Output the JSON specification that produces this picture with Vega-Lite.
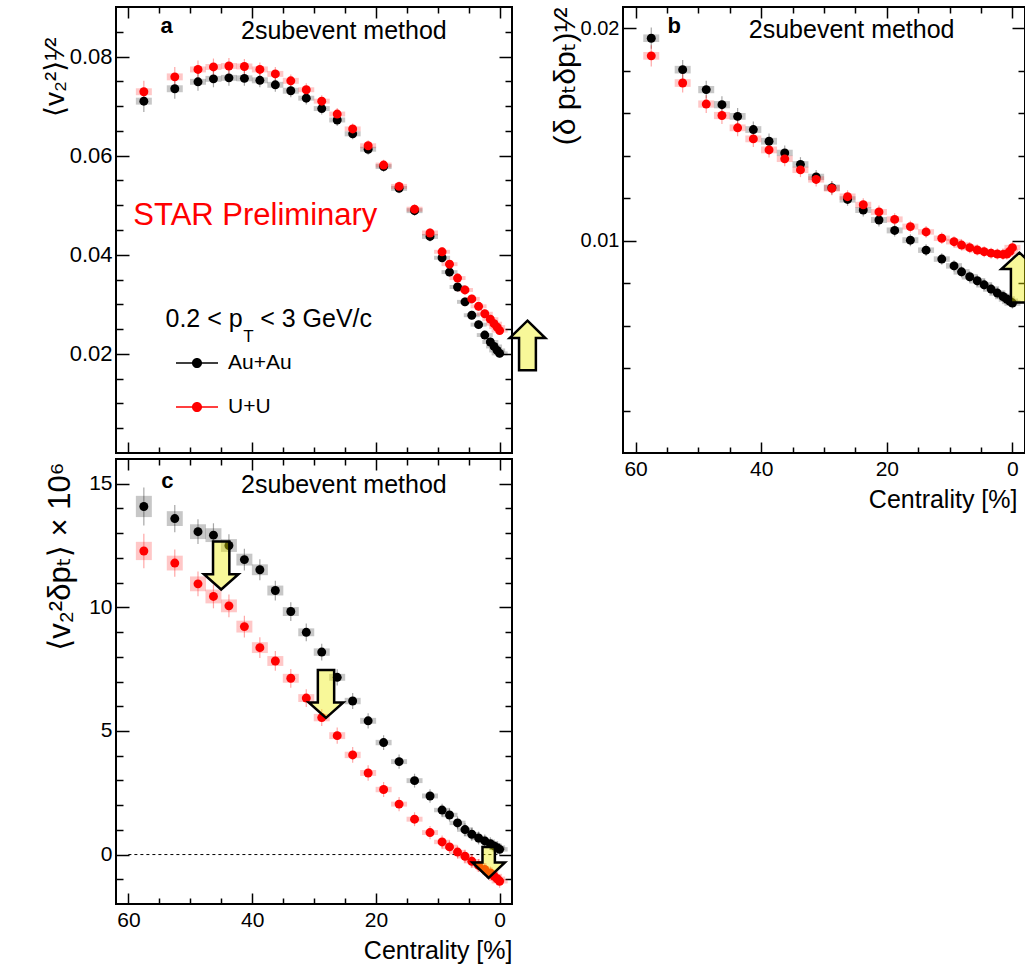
{
 "$schema": "https://vega.github.io/schema/vega-lite/v6.json",
 "background": "white",
 "padding": {"left": 40, "top": 5, "right": 0, "bottom": 0},
 "config": {
   "font": "Liberation Sans",
   "view": {"stroke": "black", "strokeWidth": 2},
   "axis": {"grid": false, "domain": false, "ticks": true, "zindex": 1, "tickColor": "black", "tickWidth": 1.5, "labelFont": "Liberation Sans", "labelFontSize": 21, "labelColor": "black", "titleFont": "Liberation Sans, DejaVu Sans", "titleFontWeight": "normal", "titleColor": "black", "labelFlush": false, "labelOverlap": false, "labelBound": false},
   "text": {"font": "Liberation Sans"}
 },
 "datasets": {
  "d": [
   {"cent":57.5,"sys":"Au+Au","a":0.0710,"ea":0.0022,"sa":0.0007,"b":0.01953,"eb":0.0005,"sb":0.00018,"c":14.08,"ec":0.77,"sc":0.43},
   {"cent":52.5,"sys":"Au+Au","a":0.0735,"ea":0.0020,"sa":0.0007,"b":0.01805,"eb":0.00045,"sb":0.00018,"c":13.59,"ec":0.55,"sc":0.30},
   {"cent":48.75,"sys":"Au+Au","a":0.0749,"ea":0.0018,"sa":0.0006,"b":0.01711,"eb":0.00042,"sb":0.00017,"c":13.06,"ec":0.50,"sc":0.30},
   {"cent":46.25,"sys":"Au+Au","a":0.0755,"ea":0.0017,"sa":0.0006,"b":0.01640,"eb":0.0004,"sb":0.00017,"c":12.92,"ec":0.48,"sc":0.28},
   {"cent":43.75,"sys":"Au+Au","a":0.0757,"ea":0.0016,"sa":0.0006,"b":0.01585,"eb":0.0004,"sb":0.00016,"c":12.50,"ec":0.46,"sc":0.26},
   {"cent":41.25,"sys":"Au+Au","a":0.0756,"ea":0.0015,"sa":0.0006,"b":0.01523,"eb":0.00038,"sb":0.00016,"c":11.93,"ec":0.44,"sc":0.24},
   {"cent":38.75,"sys":"Au+Au","a":0.0752,"ea":0.0014,"sa":0.0006,"b":0.01468,"eb":0.00036,"sb":0.00016,"c":11.52,"ec":0.42,"sc":0.22},
   {"cent":36.25,"sys":"Au+Au","a":0.0743,"ea":0.0014,"sa":0.0006,"b":0.01413,"eb":0.00035,"sb":0.00015,"c":10.68,"ec":0.40,"sc":0.20},
   {"cent":33.75,"sys":"Au+Au","a":0.0731,"ea":0.0013,"sa":0.0006,"b":0.01359,"eb":0.00034,"sb":0.00015,"c":9.83,"ec":0.38,"sc":0.18},
   {"cent":31.25,"sys":"Au+Au","a":0.0716,"ea":0.0013,"sa":0.0005,"b":0.01300,"eb":0.00033,"sb":0.00015,"c":8.99,"ec":0.36,"sc":0.16},
   {"cent":28.75,"sys":"Au+Au","a":0.0695,"ea":0.0012,"sa":0.0005,"b":0.01249,"eb":0.00032,"sb":0.00015,"c":8.19,"ec":0.34,"sc":0.15},
   {"cent":26.25,"sys":"Au+Au","a":0.0672,"ea":0.0012,"sa":0.0005,"b":0.01194,"eb":0.0003,"sb":0.00015,"c":7.17,"ec":0.33,"sc":0.14},
   {"cent":23.75,"sys":"Au+Au","a":0.0644,"ea":0.0011,"sa":0.0005,"b":0.01144,"eb":0.0003,"sb":0.00014,"c":6.21,"ec":0.32,"sc":0.13},
   {"cent":21.25,"sys":"Au+Au","a":0.0613,"ea":0.0011,"sa":0.0005,"b":0.01097,"eb":0.0003,"sb":0.00014,"c":5.41,"ec":0.31,"sc":0.12},
   {"cent":18.75,"sys":"Au+Au","a":0.0578,"ea":0.0011,"sa":0.0005,"b":0.01048,"eb":0.00029,"sb":0.00014,"c":4.53,"ec":0.30,"sc":0.11},
   {"cent":16.25,"sys":"Au+Au","a":0.0534,"ea":0.0010,"sa":0.0005,"b":0.01002,"eb":0.00028,"sb":0.00014,"c":3.76,"ec":0.29,"sc":0.10},
   {"cent":13.75,"sys":"Au+Au","a":0.0489,"ea":0.0010,"sa":0.0005,"b":0.00955,"eb":0.00028,"sb":0.00013,"c":2.99,"ec":0.28,"sc":0.10},
   {"cent":11.25,"sys":"Au+Au","a":0.0437,"ea":0.0010,"sa":0.0005,"b":0.00913,"eb":0.00027,"sb":0.00013,"c":2.37,"ec":0.27,"sc":0.10},
   {"cent":9.3,"sys":"Au+Au","a":0.0394,"ea":0.0009,"sa":0.0004,"b":0.00881,"eb":0.00026,"sb":0.00013,"c":1.80,"ec":0.26,"sc":0.09},
   {"cent":8.1,"sys":"Au+Au","a":0.0365,"ea":0.0009,"sa":0.0004,"b":0.00853,"eb":0.00026,"sb":0.00013,"c":1.60,"ec":0.26,"sc":0.09},
   {"cent":6.8,"sys":"Au+Au","a":0.0335,"ea":0.0009,"sa":0.0004,"b":0.00830,"eb":0.00026,"sb":0.00013,"c":1.28,"ec":0.26,"sc":0.09},
   {"cent":5.6,"sys":"Au+Au","a":0.0305,"ea":0.0009,"sa":0.0004,"b":0.00811,"eb":0.00026,"sb":0.00013,"c":1.01,"ec":0.26,"sc":0.09},
   {"cent":4.5,"sys":"Au+Au","a":0.0278,"ea":0.0009,"sa":0.0004,"b":0.00792,"eb":0.00026,"sb":0.00013,"c":0.82,"ec":0.26,"sc":0.09},
   {"cent":3.4,"sys":"Au+Au","a":0.0259,"ea":0.0009,"sa":0.0004,"b":0.00772,"eb":0.00026,"sb":0.00013,"c":0.67,"ec":0.26,"sc":0.09},
   {"cent":2.4,"sys":"Au+Au","a":0.0238,"ea":0.0009,"sa":0.0004,"b":0.00753,"eb":0.00026,"sb":0.00013,"c":0.55,"ec":0.26,"sc":0.09},
   {"cent":1.5,"sys":"Au+Au","a":0.0224,"ea":0.0009,"sa":0.0004,"b":0.00737,"eb":0.00026,"sb":0.00013,"c":0.44,"ec":0.26,"sc":0.09},
   {"cent":0.9,"sys":"Au+Au","a":0.0215,"ea":0.0009,"sa":0.0004,"b":0.00725,"eb":0.00026,"sb":0.00013,"c":0.35,"ec":0.26,"sc":0.09},
   {"cent":0.4,"sys":"Au+Au","a":0.0207,"ea":0.0009,"sa":0.0004,"b":0.00714,"eb":0.00026,"sb":0.00013,"c":0.28,"ec":0.26,"sc":0.09},
   {"cent":0.0,"sys":"Au+Au","a":0.0201,"ea":0.0009,"sa":0.0004,"b":0.00706,"eb":0.00026,"sb":0.00013,"c":0.21,"ec":0.26,"sc":0.09},
   {"cent":57.5,"sys":"U+U","a":0.0729,"ea":0.0022,"sa":0.0007,"b":0.01870,"eb":0.0005,"sb":0.00018,"c":12.28,"ec":0.70,"sc":0.37},
   {"cent":52.5,"sys":"U+U","a":0.0759,"ea":0.0020,"sa":0.0007,"b":0.01742,"eb":0.00045,"sb":0.00018,"c":11.79,"ec":0.55,"sc":0.30},
   {"cent":48.75,"sys":"U+U","a":0.0774,"ea":0.0018,"sa":0.0006,"b":0.01643,"eb":0.00042,"sb":0.00017,"c":10.95,"ec":0.50,"sc":0.30},
   {"cent":46.25,"sys":"U+U","a":0.0779,"ea":0.0017,"sa":0.0006,"b":0.01589,"eb":0.0004,"sb":0.00017,"c":10.44,"ec":0.48,"sc":0.28},
   {"cent":43.75,"sys":"U+U","a":0.0781,"ea":0.0016,"sa":0.0006,"b":0.01531,"eb":0.0004,"sb":0.00016,"c":10.06,"ec":0.46,"sc":0.26},
   {"cent":41.25,"sys":"U+U","a":0.0780,"ea":0.0015,"sa":0.0006,"b":0.01479,"eb":0.00038,"sb":0.00016,"c":9.22,"ec":0.44,"sc":0.24},
   {"cent":38.75,"sys":"U+U","a":0.0774,"ea":0.0014,"sa":0.0006,"b":0.01427,"eb":0.00036,"sb":0.00016,"c":8.37,"ec":0.42,"sc":0.22},
   {"cent":36.25,"sys":"U+U","a":0.0765,"ea":0.0014,"sa":0.0006,"b":0.01385,"eb":0.00035,"sb":0.00015,"c":7.83,"ec":0.40,"sc":0.20},
   {"cent":33.75,"sys":"U+U","a":0.0751,"ea":0.0013,"sa":0.0006,"b":0.01333,"eb":0.00034,"sb":0.00015,"c":7.13,"ec":0.38,"sc":0.18},
   {"cent":31.25,"sys":"U+U","a":0.0733,"ea":0.0013,"sa":0.0005,"b":0.01288,"eb":0.00033,"sb":0.00015,"c":6.33,"ec":0.36,"sc":0.16},
   {"cent":28.75,"sys":"U+U","a":0.0710,"ea":0.0012,"sa":0.0005,"b":0.01246,"eb":0.00032,"sb":0.00015,"c":5.54,"ec":0.34,"sc":0.15},
   {"cent":26.25,"sys":"U+U","a":0.0684,"ea":0.0012,"sa":0.0005,"b":0.01207,"eb":0.0003,"sb":0.00015,"c":4.81,"ec":0.33,"sc":0.14},
   {"cent":23.75,"sys":"U+U","a":0.0654,"ea":0.0011,"sa":0.0005,"b":0.01169,"eb":0.0003,"sb":0.00014,"c":4.03,"ec":0.32,"sc":0.13},
   {"cent":21.25,"sys":"U+U","a":0.0620,"ea":0.0011,"sa":0.0005,"b":0.01135,"eb":0.0003,"sb":0.00014,"c":3.30,"ec":0.31,"sc":0.12},
   {"cent":18.75,"sys":"U+U","a":0.0581,"ea":0.0011,"sa":0.0005,"b":0.01100,"eb":0.00029,"sb":0.00014,"c":2.63,"ec":0.30,"sc":0.11},
   {"cent":16.25,"sys":"U+U","a":0.0538,"ea":0.0010,"sa":0.0005,"b":0.01066,"eb":0.00028,"sb":0.00014,"c":2.04,"ec":0.29,"sc":0.10},
   {"cent":13.75,"sys":"U+U","a":0.0492,"ea":0.0010,"sa":0.0005,"b":0.01041,"eb":0.00028,"sb":0.00013,"c":1.43,"ec":0.28,"sc":0.10},
   {"cent":11.25,"sys":"U+U","a":0.0444,"ea":0.0010,"sa":0.0005,"b":0.01011,"eb":0.00027,"sb":0.00013,"c":0.89,"ec":0.27,"sc":0.10},
   {"cent":9.3,"sys":"U+U","a":0.0406,"ea":0.0009,"sa":0.0004,"b":0.00995,"eb":0.00026,"sb":0.00013,"c":0.51,"ec":0.26,"sc":0.09},
   {"cent":8.1,"sys":"U+U","a":0.0381,"ea":0.0009,"sa":0.0004,"b":0.00979,"eb":0.00026,"sb":0.00013,"c":0.31,"ec":0.26,"sc":0.09},
   {"cent":6.8,"sys":"U+U","a":0.0353,"ea":0.0009,"sa":0.0004,"b":0.00967,"eb":0.00026,"sb":0.00013,"c":0.10,"ec":0.26,"sc":0.09},
   {"cent":5.6,"sys":"U+U","a":0.0329,"ea":0.0009,"sa":0.0004,"b":0.00956,"eb":0.00026,"sb":0.00013,"c":-0.07,"ec":0.26,"sc":0.09},
   {"cent":4.5,"sys":"U+U","a":0.0311,"ea":0.0009,"sa":0.0004,"b":0.00948,"eb":0.00026,"sb":0.00013,"c":-0.27,"ec":0.26,"sc":0.09},
   {"cent":3.4,"sys":"U+U","a":0.0296,"ea":0.0009,"sa":0.0004,"b":0.00941,"eb":0.00026,"sb":0.00013,"c":-0.44,"ec":0.26,"sc":0.09},
   {"cent":2.4,"sys":"U+U","a":0.0281,"ea":0.0009,"sa":0.0004,"b":0.00937,"eb":0.00026,"sb":0.00013,"c":-0.60,"ec":0.26,"sc":0.09},
   {"cent":1.5,"sys":"U+U","a":0.0270,"ea":0.0009,"sa":0.0004,"b":0.00935,"eb":0.00026,"sb":0.00013,"c":-0.74,"ec":0.26,"sc":0.09},
   {"cent":0.9,"sys":"U+U","a":0.0261,"ea":0.0009,"sa":0.0004,"b":0.00937,"eb":0.00026,"sb":0.00013,"c":-0.87,"ec":0.26,"sc":0.09},
   {"cent":0.4,"sys":"U+U","a":0.0254,"ea":0.0009,"sa":0.0004,"b":0.00950,"eb":0.00026,"sb":0.00013,"c":-0.98,"ec":0.26,"sc":0.09},
   {"cent":0.0,"sys":"U+U","a":0.0247,"ea":0.0009,"sa":0.0004,"b":0.00967,"eb":0.00026,"sb":0.00013,"c":-1.08,"ec":0.26,"sc":0.09}
  ]
 },
 "columns": 2,
 "align": "each",
 "bounds": "flush",
 "spacing": {"row": 6, "column": 111},
 "concat": [
  {
   "width": 396, "height": 446,
   "resolve": {"axis": {"x": "independent", "y": "independent"}},
   "layer": [
    {
     "data": {"name": "d"},
     "transform": [{"filter": "datum.sys === 'Au+Au'"}],
     "mark": {"type": "errorbar", "ticks": false, "rule": {"strokeWidth": 16, "opacity": 0.22, "color": "#000000"}},
     "encoding": {
      "x": {"field": "cent", "type": "quantitative", "scale": {"domain": [62, -2], "nice": false, "zero": false}, "axis": {"orient": "bottom", "values": [5,10,15,25,30,35,45,50,55], "offset": -6, "tickSize": 6, "labels": false, "title": null}},
      "y": {"field": "a", "type": "quantitative", "scale": {"domain": [0, 0.09], "nice": false, "zero": false}, "axis": {"orient": "left", "values": [0.005,0.01,0.015,0.025,0.03,0.035,0.045,0.05,0.055,0.065,0.07,0.075,0.085], "offset": -7, "tickSize": 7, "labels": false, "title": null}},
      "yError": {"field": "sa"}
     }
    },
    {
     "data": {"name": "d"},
     "transform": [{"filter": "datum.sys === 'U+U'"}],
     "mark": {"type": "errorbar", "ticks": false, "rule": {"strokeWidth": 16, "opacity": 0.22, "color": "#ff0000"}},
     "encoding": {
      "x": {"field": "cent", "type": "quantitative", "scale": {"domain": [62, -2], "nice": false, "zero": false}, "axis": null},
      "y": {"field": "a", "type": "quantitative", "scale": {"domain": [0, 0.09], "nice": false, "zero": false}, "axis": null},
      "yError": {"field": "sa"}
     }
    },
    {
     "data": {"name": "d"},
     "transform": [{"filter": "datum.sys === 'Au+Au'"}],
     "mark": {"type": "errorbar", "ticks": false, "rule": {"strokeWidth": 1.2, "opacity": 0.35, "color": "#000000"}},
     "encoding": {
      "x": {"field": "cent", "type": "quantitative", "scale": {"domain": [62, -2], "nice": false, "zero": false}, "axis": {"orient": "top", "values": [0,20,40,60], "offset": -11, "tickSize": 11, "labels": false, "title": null}},
      "y": {"field": "a", "type": "quantitative", "scale": {"domain": [0, 0.09], "nice": false, "zero": false}, "axis": {"orient": "right", "values": [0.02,0.04,0.06,0.08], "offset": -13, "tickSize": 13, "labels": false, "title": null}},
      "yError": {"field": "ea"}
     }
    },
    {
     "data": {"name": "d"},
     "transform": [{"filter": "datum.sys === 'U+U'"}],
     "mark": {"type": "errorbar", "ticks": false, "rule": {"strokeWidth": 1.2, "opacity": 0.35, "color": "#ff0000"}},
     "encoding": {
      "x": {"field": "cent", "type": "quantitative", "scale": {"domain": [62, -2], "nice": false, "zero": false}, "axis": null},
      "y": {"field": "a", "type": "quantitative", "scale": {"domain": [0, 0.09], "nice": false, "zero": false}, "axis": null},
      "yError": {"field": "ea"}
     }
    },
    {
     "data": {"name": "d"},
     "mark": {"type": "circle", "size": 80, "opacity": 1},
     "encoding": {
      "x": {"field": "cent", "type": "quantitative", "scale": {"domain": [62, -2], "nice": false, "zero": false}, "axis": {"orient": "bottom", "values": [0,20,40,60], "offset": -11, "tickSize": 11, "labels": false, "title": null}},
      "y": {"field": "a", "type": "quantitative", "scale": {"domain": [0, 0.09], "nice": false, "zero": false}, "axis": {"orient": "left", "values": [0.02,0.04,0.06,0.08], "offset": -13, "tickSize": 13, "labelPadding": 4, "labelFontSize": 22, "format": ".2f", "title": "⟨v₂²⟩¹⁄²", "titleAnchor": "end", "titleY": 30, "titleFontSize": 28, "titlePadding": 0}},
      "color": {"field": "sys", "type": "nominal", "scale": {"domain": ["Au+Au", "U+U"], "range": ["#000000", "#ff0000"]},
        "legend": {"title": null, "orient": "none", "legendX": 60, "legendY": 335, "padding": 0, "symbolType": "M-1,-0.036L1,-0.036L1,0.036L-1,0.036ZM-0.24,0A0.24,0.24,0,1,1,0.24,0A0.24,0.24,0,1,1,-0.24,0Z", "symbolSize": 1764, "symbolStrokeWidth": 0, "symbolOpacity": 1, "labelFontSize": 21, "labelFont": "Liberation Sans", "labelColor": "black", "labelOffset": 10, "rowPadding": 13}}
     }
    },
    {
     "data": {"values": [{"cent": 41.8, "v": 0.0836, "label": "2subevent method"}]},
     "mark": {"type": "text", "fontSize": 25, "align": "left", "baseline": "alphabetic", "color": "black"},
     "encoding": {
      "x": {"field": "cent", "type": "quantitative", "scale": {"domain": [62, -2], "nice": false, "zero": false}, "axis": {"orient": "top", "values": [5,10,15,25,30,35,45,50,55], "offset": -6, "tickSize": 6, "labels": false, "title": null}},
      "y": {"field": "v", "type": "quantitative", "scale": {"domain": [0, 0.09], "nice": false, "zero": false}, "axis": {"orient": "right", "values": [0.005,0.01,0.015,0.025,0.03,0.035,0.045,0.05,0.055,0.065,0.07,0.075,0.085], "offset": -7, "tickSize": 7, "labels": false, "title": null}},
      "text": {"field": "label"}
     }
    },
    {
     "data": {"values": [{"cent": 54.8, "v": 0.0847, "label": "a"}]},
     "mark": {"type": "text", "fontSize": 22, "fontWeight": "bold", "align": "left", "baseline": "alphabetic", "color": "black"},
     "encoding": {
      "x": {"field": "cent", "type": "quantitative", "scale": {"domain": [62, -2], "nice": false, "zero": false}, "axis": null},
      "y": {"field": "v", "type": "quantitative", "scale": {"domain": [0, 0.09], "nice": false, "zero": false}, "axis": null},
      "text": {"field": "label"}
     }
    },
    {
     "data": {"values": [{"cent": 59.2, "v": 0.0461, "label": "STAR Preliminary"}]},
     "mark": {"type": "text", "fontSize": 31, "align": "left", "baseline": "alphabetic", "color": "#ff0000"},
     "encoding": {
      "x": {"field": "cent", "type": "quantitative", "scale": {"domain": [62, -2], "nice": false, "zero": false}, "axis": null},
      "y": {"field": "v", "type": "quantitative", "scale": {"domain": [0, 0.09], "nice": false, "zero": false}, "axis": null},
      "text": {"field": "label"}
     }
    },
    {
     "data": {"values": [{"cent": 54.0, "v": 0.0254, "label": "0.2 < p"}, {"cent": 38.7, "v": 0.0254, "label": "< 3 GeV/c"}]},
     "mark": {"type": "text", "fontSize": 25, "align": "left", "baseline": "alphabetic", "color": "black"},
     "encoding": {
      "x": {"field": "cent", "type": "quantitative", "scale": {"domain": [62, -2], "nice": false, "zero": false}, "axis": null},
      "y": {"field": "v", "type": "quantitative", "scale": {"domain": [0, 0.09], "nice": false, "zero": false}, "axis": null},
      "text": {"field": "label"}
     }
    },
    {
     "data": {"values": [{"cent": 41.45, "v": 0.02237, "label": "T"}]},
     "mark": {"type": "text", "fontSize": 17, "align": "left", "baseline": "alphabetic", "color": "black"},
     "encoding": {
      "x": {"field": "cent", "type": "quantitative", "scale": {"domain": [62, -2], "nice": false, "zero": false}, "axis": null},
      "y": {"field": "v", "type": "quantitative", "scale": {"domain": [0, 0.09], "nice": false, "zero": false}, "axis": null},
      "text": {"field": "label"}
     }
    },
    {
     "data": {"values": [{"cent": -4.5, "v": 0.0217}]},
     "mark": {"type": "point", "shape": "M0,-1L0.72,-0.3L0.34,-0.3L0.34,1L-0.34,1L-0.34,-0.3L-0.72,-0.3Z", "size": 2450, "filled": true, "fill": "#eeee00", "fillOpacity": 0.4, "stroke": "black", "strokeWidth": 2.5, "strokeOpacity": 1, "opacity": 1},
     "encoding": {
      "x": {"field": "cent", "type": "quantitative", "scale": {"domain": [62, -2], "nice": false, "zero": false}, "axis": null},
      "y": {"field": "v", "type": "quantitative", "scale": {"domain": [0, 0.09], "nice": false, "zero": false}, "axis": null}
     }
    }
   ]
  },
  {
   "width": 402, "height": 446,
   "resolve": {"axis": {"x": "independent", "y": "independent"}},
   "layer": [
    {
     "data": {"name": "d"},
     "transform": [{"filter": "datum.sys === 'Au+Au'"}],
     "mark": {"type": "errorbar", "ticks": false, "rule": {"strokeWidth": 16, "opacity": 0.22, "color": "#000000"}},
     "encoding": {
      "x": {"field": "cent", "type": "quantitative", "scale": {"domain": [62, -2], "nice": false, "zero": false}, "axis": {"orient": "bottom", "values": [5,10,15,25,30,35,45,50,55], "offset": -6, "tickSize": 6, "labels": false, "title": null}},
      "y": {"field": "b", "type": "quantitative", "scale": {"domain": [0, 0.021], "nice": false, "zero": false}, "axis": {"orient": "left", "values": [0.002,0.004,0.006,0.008,0.012,0.014,0.016,0.018], "offset": -7, "tickSize": 7, "labels": false, "title": null}},
      "yError": {"field": "sb"}
     }
    },
    {
     "data": {"name": "d"},
     "transform": [{"filter": "datum.sys === 'U+U'"}],
     "mark": {"type": "errorbar", "ticks": false, "rule": {"strokeWidth": 16, "opacity": 0.22, "color": "#ff0000"}},
     "encoding": {
      "x": {"field": "cent", "type": "quantitative", "scale": {"domain": [62, -2], "nice": false, "zero": false}, "axis": null},
      "y": {"field": "b", "type": "quantitative", "scale": {"domain": [0, 0.021], "nice": false, "zero": false}, "axis": null},
      "yError": {"field": "sb"}
     }
    },
    {
     "data": {"name": "d"},
     "transform": [{"filter": "datum.sys === 'Au+Au'"}],
     "mark": {"type": "errorbar", "ticks": false, "rule": {"strokeWidth": 1.2, "opacity": 0.35, "color": "#000000"}},
     "encoding": {
      "x": {"field": "cent", "type": "quantitative", "scale": {"domain": [62, -2], "nice": false, "zero": false}, "axis": {"orient": "top", "values": [0,20,40,60], "offset": -11, "tickSize": 11, "labels": false, "title": null}},
      "y": {"field": "b", "type": "quantitative", "scale": {"domain": [0, 0.021], "nice": false, "zero": false}, "axis": {"orient": "right", "values": [0.01,0.02], "offset": -13, "tickSize": 13, "labels": false, "title": null}},
      "yError": {"field": "eb"}
     }
    },
    {
     "data": {"name": "d"},
     "transform": [{"filter": "datum.sys === 'U+U'"}],
     "mark": {"type": "errorbar", "ticks": false, "rule": {"strokeWidth": 1.2, "opacity": 0.35, "color": "#ff0000"}},
     "encoding": {
      "x": {"field": "cent", "type": "quantitative", "scale": {"domain": [62, -2], "nice": false, "zero": false}, "axis": null},
      "y": {"field": "b", "type": "quantitative", "scale": {"domain": [0, 0.021], "nice": false, "zero": false}, "axis": null},
      "yError": {"field": "eb"}
     }
    },
    {
     "data": {"name": "d"},
     "mark": {"type": "circle", "size": 80, "opacity": 1},
     "encoding": {
      "x": {"field": "cent", "type": "quantitative", "scale": {"domain": [62, -2], "nice": false, "zero": false}, "axis": {"orient": "bottom", "values": [0,20,40,60], "offset": -11, "tickSize": 11, "labelPadding": 5, "labelFontSize": 21, "format": "d", "title": "Centrality [%]", "titleAnchor": "end", "titleX": 394, "titleFontSize": 25, "titlePadding": 8}},
      "y": {"field": "b", "type": "quantitative", "scale": {"domain": [0, 0.021], "nice": false, "zero": false}, "axis": {"orient": "left", "values": [0.01,0.02], "offset": -13, "tickSize": 13, "labelPadding": 4, "labelFontSize": 20, "format": ".2f", "title": "(δ pₜδpₜ)¹⁄²", "titleAnchor": "end", "titleY": 0, "titleFontSize": 30, "titlePadding": 0}},
      "color": {"field": "sys", "type": "nominal", "scale": {"domain": ["Au+Au", "U+U"], "range": ["#000000", "#ff0000"]}}
     }
    },
    {
     "data": {"values": [{"cent": 41.97, "v": 0.01956, "label": "2subevent method"}]},
     "mark": {"type": "text", "fontSize": 25, "align": "left", "baseline": "alphabetic", "color": "black"},
     "encoding": {
      "x": {"field": "cent", "type": "quantitative", "scale": {"domain": [62, -2], "nice": false, "zero": false}, "axis": {"orient": "top", "values": [5,10,15,25,30,35,45,50,55], "offset": -6, "tickSize": 6, "labels": false, "title": null}},
      "y": {"field": "v", "type": "quantitative", "scale": {"domain": [0, 0.021], "nice": false, "zero": false}, "axis": {"orient": "right", "values": [0.002,0.004,0.006,0.008,0.012,0.014,0.016,0.018], "offset": -7, "tickSize": 7, "labels": false, "title": null}},
      "text": {"field": "label"}
     }
    },
    {
     "data": {"values": [{"cent": 54.9, "v": 0.01977, "label": "b"}]},
     "mark": {"type": "text", "fontSize": 22, "fontWeight": "bold", "align": "left", "baseline": "alphabetic", "color": "black"},
     "encoding": {
      "x": {"field": "cent", "type": "quantitative", "scale": {"domain": [62, -2], "nice": false, "zero": false}, "axis": null},
      "y": {"field": "v", "type": "quantitative", "scale": {"domain": [0, 0.021], "nice": false, "zero": false}, "axis": null},
      "text": {"field": "label"}
     }
    },
    {
     "data": {"values": [{"cent": -1.11, "v": 0.00826}]},
     "mark": {"type": "point", "shape": "M0,-1L0.72,-0.34L0.34,-0.34L0.34,1L-0.34,1L-0.34,-0.34L-0.72,-0.34Z", "size": 2500, "filled": true, "fill": "#eeee00", "fillOpacity": 0.4, "stroke": "black", "strokeWidth": 2.5, "strokeOpacity": 1, "opacity": 1},
     "encoding": {
      "x": {"field": "cent", "type": "quantitative", "scale": {"domain": [62, -2], "nice": false, "zero": false}, "axis": null},
      "y": {"field": "v", "type": "quantitative", "scale": {"domain": [0, 0.021], "nice": false, "zero": false}, "axis": null}
     }
    }
   ]
  },
  {
   "width": 396, "height": 445,
   "resolve": {"axis": {"x": "independent", "y": "independent"}},
   "layer": [
    {
     "data": {"values": [{"x0": 60, "x1": 0, "v": 0}]},
     "mark": {"type": "rule", "color": "black", "strokeWidth": 1, "strokeDash": [3, 3]},
     "encoding": {
      "x": {"field": "x0", "type": "quantitative", "scale": {"domain": [62, -2], "nice": false, "zero": false}, "axis": null},
      "x2": {"field": "x1"},
      "y": {"field": "v", "type": "quantitative", "scale": {"domain": [-2, 16], "nice": false, "zero": false}, "axis": null}
     }
    },
    {
     "data": {"name": "d"},
     "transform": [{"filter": "datum.sys === 'Au+Au'"}],
     "mark": {"type": "errorbar", "ticks": false, "rule": {"strokeWidth": 16, "opacity": 0.22, "color": "#000000"}},
     "encoding": {
      "x": {"field": "cent", "type": "quantitative", "scale": {"domain": [62, -2], "nice": false, "zero": false}, "axis": {"orient": "bottom", "values": [5,10,15,25,30,35,45,50,55], "offset": -6, "tickSize": 6, "labels": false, "title": null}},
      "y": {"field": "c", "type": "quantitative", "scale": {"domain": [-2, 16], "nice": false, "zero": false}, "axis": {"orient": "left", "values": [-1,1,2,3,4,6,7,8,9,11,12,13,14], "offset": -7, "tickSize": 7, "labels": false, "title": null}},
      "yError": {"field": "sc"}
     }
    },
    {
     "data": {"name": "d"},
     "transform": [{"filter": "datum.sys === 'U+U'"}],
     "mark": {"type": "errorbar", "ticks": false, "rule": {"strokeWidth": 16, "opacity": 0.22, "color": "#ff0000"}},
     "encoding": {
      "x": {"field": "cent", "type": "quantitative", "scale": {"domain": [62, -2], "nice": false, "zero": false}, "axis": null},
      "y": {"field": "c", "type": "quantitative", "scale": {"domain": [-2, 16], "nice": false, "zero": false}, "axis": null},
      "yError": {"field": "sc"}
     }
    },
    {
     "data": {"name": "d"},
     "transform": [{"filter": "datum.sys === 'Au+Au'"}],
     "mark": {"type": "errorbar", "ticks": false, "rule": {"strokeWidth": 1.2, "opacity": 0.35, "color": "#000000"}},
     "encoding": {
      "x": {"field": "cent", "type": "quantitative", "scale": {"domain": [62, -2], "nice": false, "zero": false}, "axis": {"orient": "top", "values": [0,20,40,60], "offset": -11, "tickSize": 11, "labels": false, "title": null}},
      "y": {"field": "c", "type": "quantitative", "scale": {"domain": [-2, 16], "nice": false, "zero": false}, "axis": {"orient": "right", "values": [0,5,10,15], "offset": -13, "tickSize": 13, "labels": false, "title": null}},
      "yError": {"field": "ec"}
     }
    },
    {
     "data": {"name": "d"},
     "transform": [{"filter": "datum.sys === 'U+U'"}],
     "mark": {"type": "errorbar", "ticks": false, "rule": {"strokeWidth": 1.2, "opacity": 0.35, "color": "#ff0000"}},
     "encoding": {
      "x": {"field": "cent", "type": "quantitative", "scale": {"domain": [62, -2], "nice": false, "zero": false}, "axis": null},
      "y": {"field": "c", "type": "quantitative", "scale": {"domain": [-2, 16], "nice": false, "zero": false}, "axis": null},
      "yError": {"field": "ec"}
     }
    },
    {
     "data": {"name": "d"},
     "mark": {"type": "circle", "size": 80, "opacity": 1},
     "encoding": {
      "x": {"field": "cent", "type": "quantitative", "scale": {"domain": [62, -2], "nice": false, "zero": false}, "axis": {"orient": "bottom", "values": [0,20,40,60], "offset": -11, "tickSize": 11, "labelPadding": 5, "labelFontSize": 21, "format": "d", "title": "Centrality [%]", "titleAnchor": "end", "titleFontSize": 25, "titlePadding": 8}},
      "y": {"field": "c", "type": "quantitative", "scale": {"domain": [-2, 16], "nice": false, "zero": false}, "axis": {"orient": "left", "values": [0,5,10,15], "offset": -13, "tickSize": 13, "labelPadding": 4, "labelFontSize": 21, "format": "d", "title": "⟨v₂²δpₜ⟩ × 10⁶", "titleAnchor": "end", "titleY": 3, "titleFontSize": 31, "titlePadding": 12}},
      "color": {"field": "sys", "type": "nominal", "scale": {"domain": ["Au+Au", "U+U"], "range": ["#000000", "#ff0000"]}}
     }
    },
    {
     "data": {"values": [{"cent": 41.8, "v": 14.62, "label": "2subevent method"}]},
     "mark": {"type": "text", "fontSize": 25, "align": "left", "baseline": "alphabetic", "color": "black"},
     "encoding": {
      "x": {"field": "cent", "type": "quantitative", "scale": {"domain": [62, -2], "nice": false, "zero": false}, "axis": {"orient": "top", "values": [5,10,15,25,30,35,45,50,55], "offset": -6, "tickSize": 6, "labels": false, "title": null}},
      "y": {"field": "v", "type": "quantitative", "scale": {"domain": [-2, 16], "nice": false, "zero": false}, "axis": {"orient": "right", "values": [-1,1,2,3,4,6,7,8,9,11,12,13,14], "offset": -7, "tickSize": 7, "labels": false, "title": null}},
      "text": {"field": "label"}
     }
    },
    {
     "data": {"values": [{"cent": 54.7, "v": 14.83, "label": "c"}]},
     "mark": {"type": "text", "fontSize": 22, "fontWeight": "bold", "align": "left", "baseline": "alphabetic", "color": "black"},
     "encoding": {
      "x": {"field": "cent", "type": "quantitative", "scale": {"domain": [62, -2], "nice": false, "zero": false}, "axis": null},
      "y": {"field": "v", "type": "quantitative", "scale": {"domain": [-2, 16], "nice": false, "zero": false}, "axis": null},
      "text": {"field": "label"}
     }
    },
    {
     "data": {"values": [{"cent": 45.0, "v": 11.69}, {"cent": 28.06, "v": 6.5}]},
     "mark": {"type": "point", "shape": "M0,1L0.72,0.36L0.34,0.36L0.34,-1L-0.34,-1L-0.34,0.36L-0.72,0.36Z", "size": 2300, "filled": true, "fill": "#eeee00", "fillOpacity": 0.4, "stroke": "black", "strokeWidth": 2.5, "strokeOpacity": 1, "opacity": 1},
     "encoding": {
      "x": {"field": "cent", "type": "quantitative", "scale": {"domain": [62, -2], "nice": false, "zero": false}, "axis": null},
      "y": {"field": "v", "type": "quantitative", "scale": {"domain": [-2, 16], "nice": false, "zero": false}, "axis": null}
     }
    },
    {
     "data": {"values": [{"cent": 1.77, "v": -0.32}]},
     "mark": {"type": "point", "shape": "M0,1L1.05,0L0.4,0L0.4,-1L-0.4,-1L-0.4,0L-1.05,0Z", "size": 961, "filled": true, "fill": "#eeee00", "fillOpacity": 0.4, "stroke": "black", "strokeWidth": 2.5, "strokeOpacity": 1, "opacity": 1},
     "encoding": {
      "x": {"field": "cent", "type": "quantitative", "scale": {"domain": [62, -2], "nice": false, "zero": false}, "axis": null},
      "y": {"field": "v", "type": "quantitative", "scale": {"domain": [-2, 16], "nice": false, "zero": false}, "axis": null}
     }
    }
   ]
  }
 ]
}
